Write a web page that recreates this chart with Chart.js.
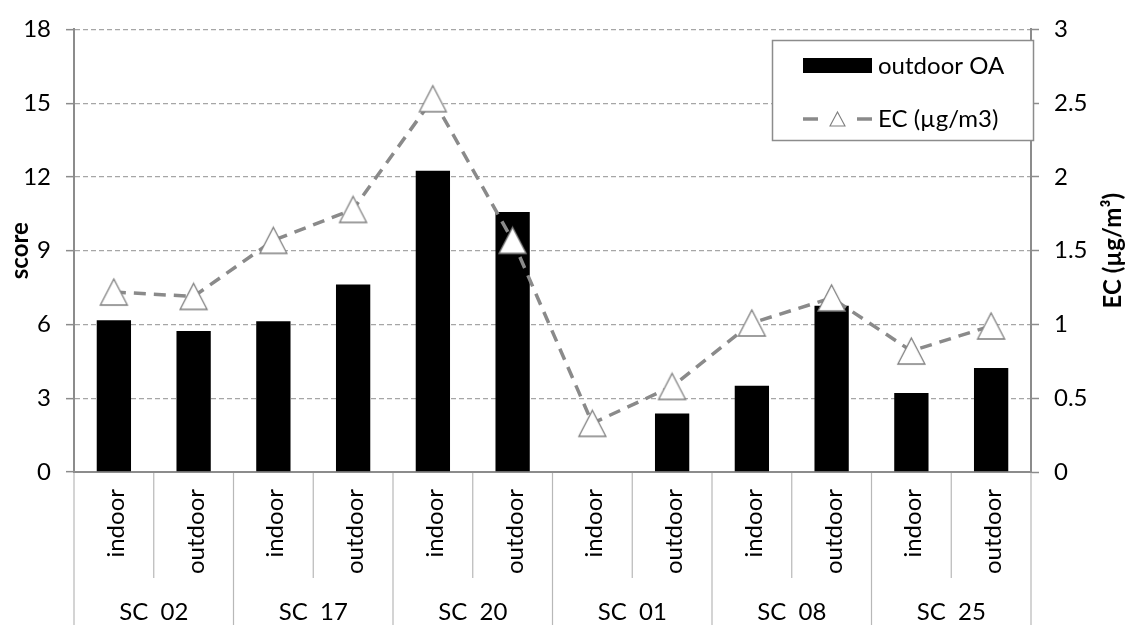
<!DOCTYPE html>
<html><head><meta charset="utf-8">
<script src="https://cdn.jsdelivr.net/npm/chart.js@4.4.1/dist/chart.umd.min.js"></script>
<style>html,body{margin:0;padding:0;background:#fff}#wrap{width:1128px;height:625px;position:relative}</style>
</head><body><div id="wrap"><canvas id="c"></canvas></div>
<script>
// ---- data ----
const groups = ['SC  02', 'SC  17', 'SC  20', 'SC  01', 'SC  08', 'SC  25'];
const subLabels = ['indoor', 'outdoor'];
const categories = ['SC 02 indoor','SC 02 outdoor','SC 17 indoor','SC 17 outdoor','SC 20 indoor','SC 20 outdoor',
                    'SC 01 indoor','SC 01 outdoor','SC 08 indoor','SC 08 outdoor','SC 25 indoor','SC 25 outdoor'];
const outdoorOA = [6.17, 5.73, 6.13, 7.63, 12.25, 10.57, null, 2.38, 3.51, 6.76, 3.21, 4.23];
const ecValues  = [1.22, 1.19, 1.57, 1.78, 2.53, 1.57, 0.33, 0.58, 1.01, 1.18, 0.82, 0.99];
const scoreTicks = [0, 3, 6, 9, 12, 15, 18];
const ecTicks = [0, 0.5, 1, 1.5, 2, 2.5, 3];
const seriesNames = ['outdoor OA', 'EC (µg/m3)'];
const axisTitles = ['score', 'EC (µg/m³)'];

const FONT = 'Lato';
const FS = 24;
const GRID = '#a6a6a6';
const AXIS = '#8c8c8c';
const SEP = '#b8b8b8';
const LINEC = '#8a8a8a';

function triangleImage(w, h, lw) {
  const c = document.createElement('canvas');
  c.width = w + 4; c.height = h + 4;
  const g = c.getContext('2d');
  g.beginPath();
  g.moveTo(c.width / 2, 2);
  g.lineTo(c.width - 2, h + 2);
  g.lineTo(2, h + 2);
  g.closePath();
  g.fillStyle = '#fff'; g.fill();
  g.strokeStyle = '#7f7f7f'; g.lineWidth = lw; g.stroke();
  return c;
}
const triBig = triangleImage(27, 26, 1.3);
const triSmall = triangleImage(15, 14, 1.1);

const extras = {
  id: 'extras',
  afterDraw(chart) {
    const ctx = chart.ctx, xs = chart.scales.x, a = chart.chartArea;
    const n = categories.length;
    const cw = a.width / n;
    const H = chart.height;
    ctx.save();
    // category separators below axis
    ctx.strokeStyle = SEP; ctx.lineWidth = 1.2;
    for (let i = 0; i <= n; i++) {
      const x = a.left + i * cw;
      ctx.beginPath();
      ctx.moveTo(x, a.bottom + 1);
      ctx.lineTo(x, i % 2 === 0 ? H : a.bottom + 106);
      ctx.stroke();
    }
    // inner labels (rotated)
    ctx.fillStyle = '#000';
    ctx.font = FS + 'px ' + FONT;
    for (let i = 0; i < n; i++) {
      const cx = xs.getPixelForValue(i);
      ctx.save();
      ctx.translate(cx + 10, a.bottom + 17);
      ctx.rotate(-Math.PI / 2);
      ctx.textAlign = 'right';
      ctx.textBaseline = 'alphabetic';
      ctx.fillText(subLabels[i % 2], 0, 0);
      ctx.restore();
    }
    // group labels
    ctx.textAlign = 'center';
    ctx.textBaseline = 'alphabetic';
    groups.forEach((g, k) => {
      const cx = a.left + (2 * k + 1) * cw;
      ctx.fillText(g, cx, a.bottom + 148);
    });
    // right axis title (reads bottom-to-top)
    ctx.save();
    ctx.font = 'bold ' + FS + 'px ' + FONT;
    ctx.translate(1121, (a.top + a.bottom) / 2);
    ctx.rotate(-Math.PI / 2);
    ctx.textAlign = 'center';
    ctx.textBaseline = 'alphabetic';
    ctx.fillText(axisTitles[1], 0, 0);
    ctx.restore();

    // legend
    const lx = 772.5, ly = 40.5, lw = 261, lh = 100;
    ctx.fillStyle = '#fff';
    ctx.fillRect(lx, ly, lw, lh);
    ctx.strokeStyle = AXIS; ctx.lineWidth = 1.5;
    ctx.strokeRect(lx, ly, lw, lh);
    ctx.fillStyle = '#000';
    ctx.fillRect(803, 58, 69, 15);
    ctx.font = FS + 'px ' + FONT;
    ctx.textAlign = 'left';
    ctx.textBaseline = 'middle';
    ctx.fillText(seriesNames[0], 878, 66);
    // line sample
    ctx.strokeStyle = LINEC; ctx.lineWidth = 3.5;
    ctx.beginPath(); ctx.moveTo(803, 119); ctx.lineTo(818, 119); ctx.stroke();
    ctx.beginPath(); ctx.moveTo(857, 119); ctx.lineTo(872, 119); ctx.stroke();
    ctx.drawImage(triSmall, 837.5 - triSmall.width / 2, 119 - triSmall.height / 2);
    ctx.fillStyle = '#000';
    ctx.fillText(seriesNames[1], 878, 119);
    ctx.restore();
  }
};

const tickFont = { family: FONT, size: FS };
const fmt = v => String(+Number(v).toFixed(2));

new Chart(document.getElementById('c'), {
  data: {
    labels: categories,
    datasets: [
      {
        type: 'line', label: seriesNames[1], data: ecValues, yAxisID: 'y2', order: 0,
        borderColor: LINEC, borderWidth: 3.5, borderDash: [12, 8], borderCapStyle: 'butt',
        pointStyle: triBig, pointRadius: 13, pointHoverRadius: 13, fill: false, tension: 0
      },
      {
        type: 'bar', label: seriesNames[0], data: outdoorOA, yAxisID: 'y', order: 1,
        backgroundColor: '#000', borderWidth: 0,
        categoryPercentage: 1.0, barPercentage: 0.43
      }
    ]
  },
  options: {
    responsive: true, maintainAspectRatio: false, animation: false,
    layout: { padding: { top: 27, left: 0, right: 0, bottom: 0 } },
    plugins: { legend: { display: false }, tooltip: { enabled: false } },
    scales: {
      x: {
        type: 'category', offset: true,
        ticks: { display: false },
        grid: { display: false, drawTicks: false },
        border: { display: true, color: AXIS, width: 2 },
        afterFit: s => { s.height = 153; }
      },
      y: {
        position: 'left',
        min: scoreTicks[0], max: scoreTicks[scoreTicks.length - 1],
        ticks: { stepSize: scoreTicks[1] - scoreTicks[0], color: '#000', font: tickFont, padding: 15, callback: fmt },
        grid: { color: GRID, lineWidth: 1.3, tickLength: 8, tickColor: AXIS, tickWidth: 1.5, tickBorderDash: [] },
        border: { display: true, color: AXIS, width: 2, dash: [5, 3] },
        title: { display: true, text: axisTitles[0], color: '#000', font: { family: FONT, size: FS, weight: 'bold' }, padding: { top: 6, bottom: 0 } },
        afterFit: s => { s.width = 74; }
      },
      y2: {
        position: 'right',
        min: ecTicks[0], max: ecTicks[ecTicks.length - 1],
        ticks: { stepSize: ecTicks[1] - ecTicks[0], color: '#000', font: tickFont, padding: 15, callback: fmt },
        grid: { drawOnChartArea: false, tickLength: 8, tickColor: AXIS, tickWidth: 1.5, tickBorderDash: [] },
        border: { display: true, color: AXIS, width: 2 },
        afterFit: s => { s.width = 97; }
      }
    }
  },
  plugins: [extras]
});
</script>
</body></html>
